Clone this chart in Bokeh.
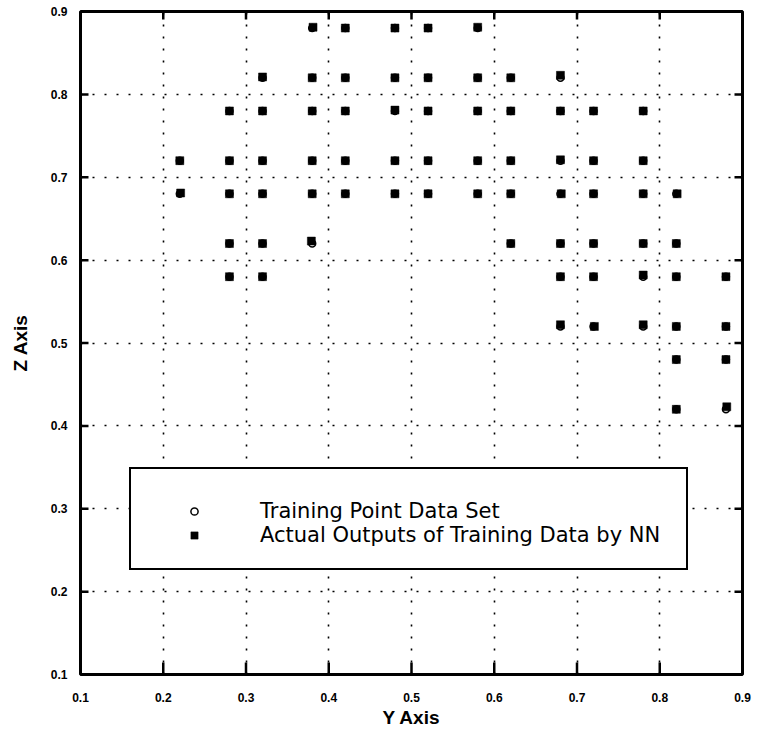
import math
from bokeh.plotting import figure
from bokeh.models import FixedTicker, Legend, LegendItem
from bokeh.embed import file_html
from bokeh.resources import INLINE

# Training points (Y, Z)
train_y = [0.38, 0.42, 0.48, 0.52, 0.58,
           0.32, 0.38, 0.42, 0.48, 0.52, 0.58, 0.62, 0.68,
           0.28, 0.32, 0.38, 0.42, 0.48, 0.52, 0.58, 0.62, 0.68, 0.72, 0.78,
           0.22, 0.28, 0.32, 0.38, 0.42, 0.48, 0.52, 0.58, 0.62, 0.68, 0.72, 0.78,
           0.22, 0.28, 0.32, 0.38, 0.42, 0.48, 0.52, 0.58, 0.62, 0.68, 0.72, 0.78, 0.82,
           0.28, 0.32, 0.38, 0.62, 0.68, 0.72, 0.78, 0.82,
           0.28, 0.32, 0.68, 0.72, 0.78, 0.82, 0.88,
           0.68, 0.72, 0.78, 0.82, 0.88,
           0.82, 0.88,
           0.82, 0.88]
train_z = [0.88, 0.88, 0.88, 0.88, 0.88,
           0.82, 0.82, 0.82, 0.82, 0.82, 0.82, 0.82, 0.82,
           0.78, 0.78, 0.78, 0.78, 0.78, 0.78, 0.78, 0.78, 0.78, 0.78, 0.78,
           0.72, 0.72, 0.72, 0.72, 0.72, 0.72, 0.72, 0.72, 0.72, 0.72, 0.72, 0.72,
           0.68, 0.68, 0.68, 0.68, 0.68, 0.68, 0.68, 0.68, 0.68, 0.68, 0.68, 0.68, 0.68,
           0.62, 0.62, 0.62, 0.62, 0.62, 0.62, 0.62, 0.62,
           0.58, 0.58, 0.58, 0.58, 0.58, 0.58, 0.58,
           0.52, 0.52, 0.52, 0.52, 0.52,
           0.48, 0.48,
           0.42, 0.42]

# Network outputs (Y, Z)
out_y = [0.381, 0.42, 0.48, 0.52, 0.58,
         0.32, 0.38, 0.42, 0.48, 0.52, 0.58, 0.62, 0.68,
         0.28, 0.32, 0.38, 0.42, 0.48, 0.52, 0.58, 0.62, 0.68, 0.72, 0.78,
         0.22, 0.28, 0.32, 0.38, 0.42, 0.48, 0.52, 0.58, 0.62, 0.68, 0.72, 0.78,
         0.221, 0.28, 0.32, 0.38, 0.42, 0.48, 0.52, 0.58, 0.62, 0.681, 0.72, 0.78, 0.821,
         0.28, 0.32, 0.379, 0.62, 0.68, 0.72, 0.78, 0.82,
         0.28, 0.32, 0.68, 0.72, 0.78, 0.82, 0.88,
         0.68, 0.721, 0.78, 0.82, 0.88,
         0.82, 0.88,
         0.82, 0.881]
out_z = [0.881, 0.88, 0.88, 0.88, 0.881,
         0.821, 0.82, 0.82, 0.82, 0.82, 0.82, 0.82, 0.823,
         0.78, 0.78, 0.78, 0.78, 0.781, 0.78, 0.78, 0.78, 0.78, 0.78, 0.78,
         0.72, 0.72, 0.72, 0.72, 0.72, 0.72, 0.72, 0.72, 0.72, 0.721, 0.72, 0.72,
         0.681, 0.68, 0.68, 0.68, 0.68, 0.68, 0.68, 0.68, 0.68, 0.68, 0.68, 0.68, 0.68,
         0.62, 0.62, 0.623, 0.62, 0.62, 0.62, 0.62, 0.62,
         0.58, 0.58, 0.58, 0.58, 0.582, 0.58, 0.58,
         0.522, 0.52, 0.522, 0.52, 0.52,
         0.48, 0.48,
         0.42, 0.423]

tick_values = [0.1, 0.2, 0.3, 0.4, 0.5, 0.6, 0.7, 0.8, 0.9]
grid_values = [0.2, 0.3, 0.4, 0.5, 0.6, 0.7, 0.8]
legend_labels = ["Training Point Data Set", "Actual Outputs of Training Data by NN"]
x_title = "Y Axis"
y_title = "Z Axis"
X0, X1 = 0.1, 0.9
Y0, Y1 = 0.1, 0.9

p = figure(width=757, height=731, x_range=(X0, X1), y_range=(Y0, Y1),
           output_backend="svg", toolbar_location=None,
           min_border_left=80, min_border_right=15, min_border_top=11, min_border_bottom=57)

p.background_fill_color = "white"
p.border_fill_color = "white"
p.outline_line_color = "black"
p.outline_line_alpha = 1.0
p.outline_line_width = 3

# grids
for g in (p.xgrid, p.ygrid):
    g.ticker = FixedTicker(ticks=grid_values)
    g.grid_line_color = "black"
    g.grid_line_width = 1.6
    g.grid_line_dash = "2 10"

# main axes (labels only; ticks drawn as inward rays below)
for ax in (p.xaxis[0], p.yaxis[0]):
    ax.ticker = FixedTicker(ticks=tick_values)
    ax.axis_line_color = None
    ax.major_tick_line_color = None
    ax.minor_tick_line_color = None
    ax.major_tick_in = 0
    ax.major_tick_out = 0
    ax.major_label_text_font = "Liberation Sans"
    ax.major_label_text_font_style = "bold"
    ax.major_label_text_font_size = "12px"
    ax.major_label_text_color = "black"
    ax.axis_label_text_font = "Liberation Sans"
    ax.axis_label_text_font_style = "bold"
    ax.axis_label_text_font_size = "19px"
    ax.axis_label_text_color = "black"

p.xaxis[0].axis_label = x_title
p.xaxis[0].major_label_standoff = 18
p.xaxis[0].axis_label_standoff = 2
p.yaxis[0].axis_label = y_title
p.yaxis[0].major_label_standoff = 13
p.yaxis[0].axis_label_standoff = 17

# inward tick marks on all four sides
n = len(grid_values)
p.ray(x=grid_values, y=[Y0] * n, length=12, length_units="screen",
      angle=math.pi / 2, line_color="black", line_width=2.5)
p.ray(x=grid_values, y=[Y1] * n, length=8, length_units="screen",
      angle=-math.pi / 2, line_color="black", line_width=2.5)
p.ray(x=[X0] * n, y=grid_values, length=8, length_units="screen",
      angle=0, line_color="black", line_width=2.5)
p.ray(x=[X1] * n, y=grid_values, length=8, length_units="screen",
      angle=math.pi, line_color="black", line_width=2.5)

r_train = p.scatter(train_y, train_z, marker="circle", size=7, fill_color=None,
                    line_color="black", line_width=1.5)
r_out = p.scatter(out_y, out_z, marker="square", size=8, fill_color="black",
                  line_color="black", line_width=0.5)

legend = Legend(items=[LegendItem(label=legend_labels[0], renderers=[r_train]),
                       LegendItem(label=legend_labels[1], renderers=[r_out])],
                location=(49, 104))
legend.title = " "
legend.title_text_font_size = "6px"
legend.title_standoff = 3
legend.padding = 21
legend.margin = 0
legend.spacing = 0
legend.glyph_width = 84
legend.glyph_height = 18
legend.label_height = 24
legend.label_width = 405
legend.label_standoff = 24
legend.label_text_font = "DejaVu Sans"
legend.label_text_font_size = "21px"
legend.label_text_color = "black"
legend.border_line_color = "black"
legend.border_line_alpha = 1.0
legend.border_line_width = 2.5
legend.background_fill_color = "white"
legend.background_fill_alpha = 1.0
p.add_layout(legend, "center")

open("out.html", "w").write(file_html(p, INLINE))
